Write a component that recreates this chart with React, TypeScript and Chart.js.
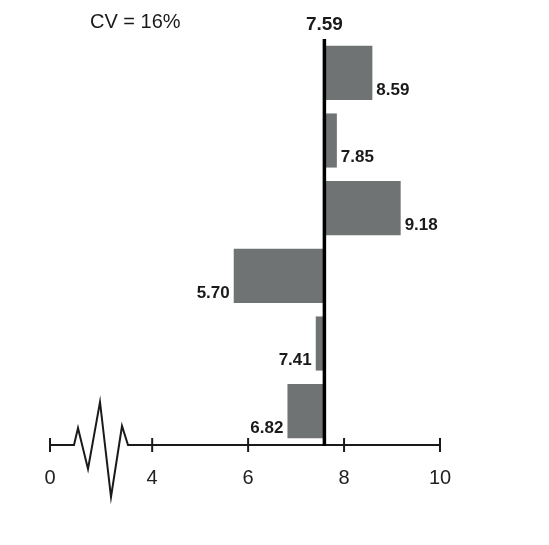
import React, { useEffect, useRef } from "react";
import { Chart, registerables } from "chart.js";

Chart.register(...registerables);

const categories = ["1", "2", "3", "4", "5", "6"];
const values = [8.59, 7.85, 9.18, 5.7, 7.41, 6.82];
const BASELINE = 7.59;
const AXIS_MIN = 1.87; // broken axis: the "0" tick sits here
const tickValues = [AXIS_MIN, 4, 6, 8, 10];
const tickLabels = ["0", "4", "6", "8", "10"];
const TITLE = "CV = 16%";

const FONT = "'Liberation Sans', Arial, Helvetica, sans-serif";

const overlay = {
  id: "overlay",
  afterDraw(chart: any) {
    const ctx = chart.ctx;
    const xs = chart.scales.x;
    const area = chart.chartArea;
    const axisY = area.bottom;
    ctx.save();
    // axis line with break
    const x0 = xs.getPixelForValue(AXIS_MIN);
    const x10 = xs.getPixelForValue(10);
    ctx.strokeStyle = "#1a1a1a";
    ctx.lineWidth = 2;
    ctx.lineJoin = "miter";
    ctx.beginPath();
    ctx.moveTo(x0, axisY);
    const zig = [
      [24, 0],
      [28, -17],
      [38, 24],
      [50, -43],
      [61, 52],
      [72, -19],
      [78, 0],
    ];
    zig.forEach(([dx, dy]) => ctx.lineTo(x0 + dx, axisY + dy));
    ctx.lineTo(x10, axisY);
    ctx.stroke();
    // tick marks
    tickValues.forEach((v) => {
      const px = xs.getPixelForValue(v);
      ctx.beginPath();
      ctx.moveTo(px, axisY - 7);
      ctx.lineTo(px, axisY + 7);
      ctx.stroke();
    });
    // baseline vertical
    const bx = xs.getPixelForValue(BASELINE);
    ctx.strokeStyle = "#000";
    ctx.lineWidth = 3.5;
    ctx.beginPath();
    ctx.moveTo(bx, area.top);
    ctx.lineTo(bx, axisY + 1);
    ctx.stroke();
    // baseline label
    ctx.fillStyle = "#1a1a1a";
    ctx.font = `bold 19px ${FONT}`;
    ctx.textAlign = "center";
    ctx.textBaseline = "middle";
    ctx.fillText(BASELINE.toFixed(2), bx, 25);
    // title
    ctx.font = `20px ${FONT}`;
    ctx.textAlign = "left";
    ctx.fillText(TITLE, 90, 22);
    // value labels
    const meta = chart.getDatasetMeta(0);
    ctx.font = `bold 17px ${FONT}`;
    meta.data.forEach((el: any, i: number) => {
      const v = values[i];
      const px = xs.getPixelForValue(v);
      const bottom = el.y + el.height / 2;
      const ty = bottom - 10;
      if (v >= BASELINE) {
        ctx.textAlign = "left";
        ctx.fillText(v.toFixed(2), px + 4, ty);
      } else {
        ctx.textAlign = "right";
        ctx.fillText(v.toFixed(2), px - 4, ty);
      }
    });
    ctx.restore();
  },
};

export default function App() {
  const ref = useRef<HTMLCanvasElement>(null);
  useEffect(() => {
    if (!ref.current) return;
    const chart = new Chart(ref.current, {
      type: "bar",
      data: {
        labels: categories,
        datasets: [
          {
            data: values.map((v) => [BASELINE, v]) as any,
            backgroundColor: "#6f7374",
            borderWidth: 0,
            barPercentage: 0.8,
            categoryPercentage: 1,
          },
        ],
      },
      options: {
        indexAxis: "y",
        animation: false,
        responsive: false,
        maintainAspectRatio: false,
        layout: { padding: { left: 50, right: 109, top: 39, bottom: 60 } },
        plugins: { legend: { display: false }, tooltip: { enabled: false } },
        scales: {
          x: {
            type: "linear",
            min: AXIS_MIN,
            max: 10,
            afterBuildTicks: (s: any) => {
              s.ticks = tickValues.map((v) => ({ value: v }));
            },
            afterFit: (s: any) => {
              s.height = 40;
            },
            ticks: {
              callback: (val: any) => {
                const i = tickValues.indexOf(Number(val));
                return i >= 0 ? tickLabels[i] : "";
              },
              font: { family: FONT, size: 20 },
              color: "#222",
              padding: 21,
              maxRotation: 0,
              autoSkip: false,
            },
            grid: { display: false, drawTicks: false },
            border: { display: false },
          },
          y: { display: false },
        },
      },
      plugins: [overlay],
    });
    return () => chart.destroy();
  }, []);
  return (
    <div style={{ position: "fixed", left: 0, top: 0, width: 549, height: 545, background: "#fff" }}>
      <canvas ref={ref} width={549} height={545} style={{ width: 549, height: 545 }} />
    </div>
  );
}
